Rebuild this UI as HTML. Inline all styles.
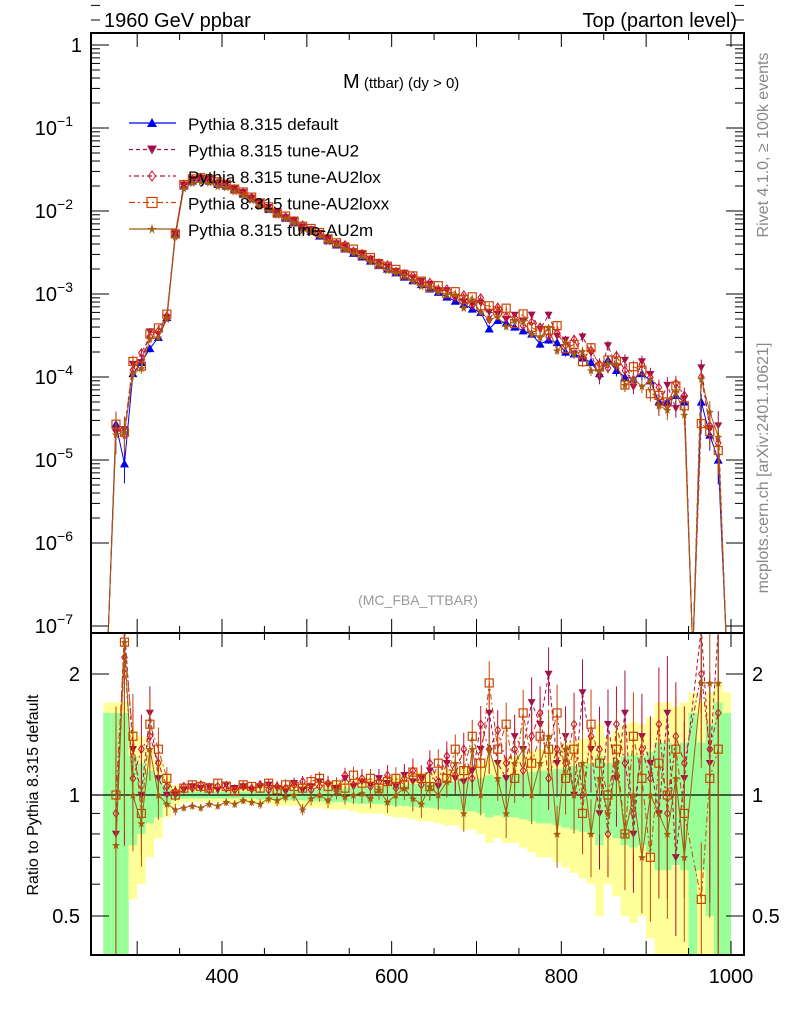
<!DOCTYPE html>
<html><head><meta charset="utf-8"><style>
html,body{margin:0;padding:0;background:#fff;width:786px;height:1024px;overflow:hidden;position:relative;}
svg{display:block;font-family:"Liberation Sans",Arial,sans-serif;}
</style></head><body>
<svg id="c" width="786" height="1024" viewBox="0 0 786 1024" style="position:absolute;left:0;top:0;"></svg>
<script>
// ---- data (bins of 10 GeV, centres 265..995) ----
const binStart = 260;
const binWidth = 10;
const defaultVals = [
0,2.7e-5,9e-6,1.1e-4,1.5e-4,2.2e-4,3.0e-4,5.2e-4,5.3e-3,0.020,
0.023,0.024,0.023,0.021,0.020,0.018,0.016,0.014,0.012,0.0105,
0.0092,0.0082,0.0072,0.0063,0.0057,0.0050,0.0044,0.0039,0.0035,0.0031,
0.0028,0.0025,0.0022,0.0020,0.0018,0.0016,0.00145,0.0013,0.00115,0.00105,
0.00092,0.00082,0.00075,0.00066,0.0006,0.00038,0.00048,0.00045,0.0004,0.00036,
0.00033,0.00025,0.00028,0.00026,0.0002,0.00019,0.00017,0.00015,0.00011,0.00016,
0.00012,0.0001,0.000095,0.00011,0.00009,0.00005,0.00005,0.00006,0.00005,0,
0.00005,0.00002,0.00001,0];
const ratioAU2 = [
null,0.8,2.6,1.3,1.0,1.6,1.1,1.0,1.0,1.03,
1.05,1.04,1.05,1.03,1.06,1.04,1.05,1.03,1.05,1.06,
1.04,1.02,1.07,1.03,1.05,1.08,1.06,1.04,1.1,1.05,
1.08,1.06,1.1,1.07,1.05,1.12,1.08,1.1,1.15,1.05,
1.2,1.1,1.08,1.15,1.3,1.6,1.2,1.1,1.4,1.3,
1.7,1.5,2.0,1.2,1.4,1.0,1.8,1.3,0.9,1.5,
1.1,1.6,0.8,1.4,1.2,0.9,1.6,0.7,1.1,null,
2.6,1.2,2.6,null];
const ratioAU2lox = [
null,0.9,2.2,1.1,1.3,1.4,1.2,1.05,1.02,1.05,
1.04,1.06,1.03,1.05,1.04,1.03,1.05,1.04,1.06,1.03,
1.05,1.04,1.06,1.08,1.03,1.05,1.07,1.04,1.12,1.06,
1.1,1.05,1.08,1.12,1.04,1.1,1.15,1.06,1.2,1.08,
1.25,1.12,1.3,1.1,1.5,1.3,1.45,1.2,1.3,1.15,
1.4,1.6,1.1,1.3,1.2,1.5,1.0,1.4,1.3,0.8,
1.5,1.2,0.9,1.3,1.1,1.5,0.9,1.4,1.2,null,
2.0,1.3,1.6,null];
const ratioAU2loxx = [
null,1.0,2.4,1.4,0.9,1.5,1.3,1.1,1.0,1.04,
1.06,1.05,1.04,1.07,1.05,1.02,1.06,1.05,1.04,1.07,
1.03,1.06,1.05,1.04,1.08,1.1,1.05,1.06,1.04,1.12,
1.07,1.1,1.04,1.08,1.1,1.06,1.14,1.1,1.05,1.2,
1.1,1.3,1.15,1.4,1.2,1.9,1.3,1.5,1.1,1.6,
1.2,1.4,1.3,1.6,1.1,1.3,0.9,1.5,1.2,1.0,
1.3,0.8,1.4,1.1,0.7,1.2,1.0,1.3,0.9,null,
0.55,1.1,1.3,null];
const ratioAU2m = [
null,0.75,2.4,1.0,0.85,1.3,1.0,0.95,0.92,0.93,
0.94,0.93,0.95,0.94,0.96,0.95,0.97,0.96,0.95,0.98,
0.97,0.99,1.0,0.92,0.98,1.0,0.97,1.02,0.99,1.0,
1.01,0.98,1.03,0.96,1.0,1.04,0.98,0.95,1.05,1.0,
1.08,1.2,0.9,1.3,1.0,1.3,1.1,0.9,1.2,1.3,
1.0,1.2,1.4,0.8,1.3,1.0,1.2,0.8,1.1,0.9,
1.2,0.8,1.0,0.7,1.0,0.9,0.8,1.1,0.7,null,
1.9,1.9,1.9,null];
const greenErr = [
0.6,0.6,0.6,0.25,0.2,0.15,0.12,0.06,0.03,0.02,
0.02,0.02,0.02,0.02,0.02,0.02,0.02,0.02,0.025,0.025,
0.03,0.03,0.03,0.03,0.035,0.035,0.04,0.04,0.04,0.045,
0.05,0.05,0.05,0.055,0.06,0.06,0.065,0.07,0.07,0.075,
0.08,0.08,0.09,0.09,0.1,0.12,0.11,0.12,0.12,0.13,
0.14,0.15,0.15,0.16,0.17,0.18,0.19,0.2,0.25,0.2,
0.22,0.25,0.26,0.25,0.28,0.35,0.35,0.33,0.35,0.6,
0.35,0.5,0.7,0.6];
const yellowErr = [
0.7,0.7,0.7,0.45,0.4,0.3,0.22,0.12,0.06,0.04,
0.04,0.04,0.04,0.04,0.04,0.045,0.045,0.05,0.05,0.05,
0.06,0.06,0.06,0.065,0.07,0.07,0.08,0.08,0.08,0.09,
0.1,0.1,0.1,0.11,0.12,0.12,0.13,0.14,0.14,0.15,
0.16,0.16,0.18,0.18,0.2,0.24,0.22,0.24,0.24,0.26,
0.28,0.3,0.3,0.32,0.34,0.36,0.38,0.4,0.5,0.4,
0.44,0.5,0.52,0.5,0.56,0.7,0.7,0.66,0.7,0.8,
0.7,0.8,0.9,0.8];
const xTicks = [400,600,800,1000];
const mainYTicks = [0,-1,-2,-3,-4,-5,-6,-7];
const ratioTicks = [2,1,0.5];

// ---- geometry ----
const L=91,R=744,T=33,MB=633,RB=955;
const xs = m => 222 + (m-400)*0.8483;
const ys = v => 45 - Math.log10(v)*83;
const yr = r => 795 - Math.log2(r)*121;
const svg = document.getElementById('c');
const NS='http://www.w3.org/2000/svg';
function el(tag, attrs, parent){const e=document.createElementNS(NS,tag);for(const k in attrs)e.setAttribute(k,attrs[k]);(parent||svg).appendChild(e);return e;}
const clipD=el('defs',{});
const c1=el('clipPath',{id:'cm'},clipD);el('rect',{x:L,y:T,width:R-L,height:MB-T},c1);
const c2=el('clipPath',{id:'cr'},clipD);el('rect',{x:L,y:MB,width:R-L,height:RB-MB},c2);

// ratio bands
const gBands=el('g',{'clip-path':'url(#cr)'});


defaultVals.forEach((v,i)=>{
  const x0=xs(binStart+i*binWidth), x1=xs(binStart+(i+1)*binWidth);
  const yy=yellowErr[i], gg=greenErr[i];
  const ry=el('rect',{x:x0,y:yr(1+yy),width:x1-x0,height:yr(Math.max(1-yy,0.05))-yr(1+yy),fill:'#ffff99'},gBands);
  
  
  const rg=el('rect',{x:x0,y:yr(1+gg),width:x1-x0,height:yr(Math.max(1-gg,0.05))-yr(1+gg),fill:'#99ff99'},gBands);
  
  
});
el('line',{x1:L,x2:R,y1:yr(1),y2:yr(1),stroke:'#000','stroke-width':1.2});

const series=[
 {name:'Pythia 8.315 default',ratio:null,color:'#0000ee',dash:'',marker:'tri'},
 {name:'Pythia 8.315 tune-AU2',ratio:ratioAU2,color:'#a0104a',dash:'4,3',marker:'tridown'},
 {name:'Pythia 8.315 tune-AU2lox',ratio:ratioAU2lox,color:'#c8102e',dash:'2,3,5,3',marker:'diamond'},
 {name:'Pythia 8.315 tune-AU2loxx',ratio:ratioAU2loxx,color:'#cc4400',dash:'6,3,2,3',marker:'square'},
 {name:'Pythia 8.315 tune-AU2m',ratio:ratioAU2m,color:'#a85a10',dash:'',marker:'star'}
];
function marker(g,type,x,y,c,s){
  s=s||4;
  if(type==='tri') return el('path',{d:`M${x},${y-s}L${x+s},${y+s*0.8}L${x-s},${y+s*0.8}Z`,fill:c},g);
  if(type==='tridown') return el('path',{d:`M${x},${y+s}L${x+s},${y-s*0.8}L${x-s},${y-s*0.8}Z`,fill:c},g);
  if(type==='diamond') return el('path',{d:`M${x},${y-s}L${x+s*0.7},${y}L${x},${y+s}L${x-s*0.7},${y}Z`,fill:'none',stroke:c,'stroke-width':1},g);
  if(type==='square') return el('rect',{x:x-s,y:y-s,width:2*s,height:2*s,fill:'none',stroke:c,'stroke-width':1.2},g);
  return el('path',{d:`M${x},${y-s}L${x+1.2},${y-1.2}L${x+s},${y-0.8}L${x+1.6},${y+1}L${x+2.4},${y+s}L${x},${y+2}L${x-2.4},${y+s}L${x-1.6},${y+1}L${x-s},${y-0.8}L${x-1.2},${y-1.2}Z`,fill:c},g);
}
const gMain=el('g',{'clip-path':'url(#cm)'});


const gRat=el('g',{'clip-path':'url(#cr)'});


series.forEach((s,si)=>{
  const g=el('g',{},gMain);
  
  
  const gr=el('g',{},gRat);
  
  
  let d='',dr='';
  const pts=[],rpts=[];
  defaultVals.forEach((v,i)=>{
    const m=binStart+(i+0.5)*binWidth;
    const x=xs(m);
    let val = s.ratio? (s.ratio[i]==null?0:v*s.ratio[i]) : v;
    const y = val>0? ys(val) : MB+20;
    d += (d?'L':'M')+x+','+y;
    if(val>0) pts.push([x,y,val,i]);
    if(s.ratio && s.ratio[i]!=null && v>0){
      const r=yr(s.ratio[i]);
      dr += (dr?'L':'M')+x+','+r;
      rpts.push([x,r,i]);
    }
  });
  el('path',{d:d,fill:'none',stroke:s.color,'stroke-width':1,'stroke-dasharray':s.dash},g);
  pts.forEach(p=>{
    const e=greenErr[p[3]]*0.7;
    el('line',{x1:p[0],x2:p[0],y1:ys(p[2]*(1+e)),y2:ys(p[2]*Math.max(1-e,0.05)),stroke:s.color,'stroke-width':1},g);
    const mk=marker(g,s.marker,p[0],p[1],s.color,si===0?4.5:4);
    
    
  });
  if(s.ratio){
    el('path',{d:dr,fill:'none',stroke:s.color,'stroke-width':1,'stroke-dasharray':s.dash},gr);
    rpts.forEach(p=>{
      const e=greenErr[p[2]]*1.1*s.ratio[p[2]];
      el('line',{x1:p[0],x2:p[0],y1:yr(s.ratio[p[2]]+e),y2:yr(Math.max(s.ratio[p[2]]-e,0.05)),stroke:s.color,'stroke-width':1},gr);
      const mk=marker(gr,s.marker,p[0],p[1],s.color,4);
      
      
    });
  }
});

// frames
el('rect',{x:L,y:T,width:R-L,height:MB-T,fill:'none',stroke:'#000','stroke-width':2});
el('rect',{x:L,y:MB,width:R-L,height:RB-MB,fill:'none',stroke:'#000','stroke-width':2});

// x ticks
const gx=el('g',{});


for(let m=300;m<=1000;m+=50){
  const x=xs(m), big=(m%100===0);
  const l=big?14:7;
  [[T,1],[MB,-1],[MB,1],[RB,-1]].forEach(([yy,dir])=>el('line',{x1:x,x2:x,y1:yy,y2:yy+dir*l,stroke:'#000','stroke-width':1},gx));
}
xTicks.forEach(m=>{
  const t=el('text',{x:xs(m),y:983,'font-size':20,'text-anchor':'middle'},gx);t.textContent=m;
  
  
});

// main y ticks
const gy=el('g',{});


mainYTicks.forEach(p=>{
  const y=45-p*83;
  el('line',{x1:L,x2:L+18,y1:y,y2:y,stroke:'#000'},gy);
  el('line',{x1:R,x2:R-18,y1:y,y2:y,stroke:'#000'},gy);
  if(p>-7) for(let k=2;k<10;k++){
    const yy=y-(Math.log10(k)-1)*83-83;
    el('line',{x1:L,x2:L+9,y1:yy,y2:yy,stroke:'#000'},gy);
    el('line',{x1:R,x2:R-9,y1:yy,y2:yy,stroke:'#000'},gy);
  }
  const t=el('text',{x:82,y:y+7,'font-size':20,'text-anchor':'end'},gy);
  
  
  if(p===0) t.textContent='1';
  else { t.innerHTML='10<tspan dy="-9" font-size="14">\u2212'+(-p)+'</tspan>'; t.setAttribute('x',73); }
});
// ratio ticks
const gry=el('g',{});


[0.5,0.6,0.7,0.8,0.9,1,2].forEach(r=>{
  const y=yr(r), big=(r===1||r===2||r===0.5);
  el('line',{x1:L,x2:L+(big?18:9),y1:y,y2:y,stroke:'#000'},gry);
  el('line',{x1:R,x2:R-(big?18:9),y1:y,y2:y,stroke:'#000'},gry);
});
ratioTicks.forEach(r=>{
  const t=el('text',{x:80,y:yr(r)+7,'font-size':20,'text-anchor':'end'},gry);t.textContent=r;
  
  
  const t2=el('text',{x:752,y:yr(r)+7,'font-size':20},gry);t2.textContent=r;
  
  
});

// legend
const gl=el('g',{});


series.forEach((s,i)=>{
  const y=123+i*26.5;
  const e=el('g',{},gl);
  
  
  el('line',{x1:129,x2:176,y1:y,y2:y,stroke:s.color,'stroke-width':1.2,'stroke-dasharray':s.dash},e);
  marker(e,s.marker,152,y,s.color,5);
  const t=el('text',{x:188,y:y+7,'font-size':17},e);t.textContent=s.name;
});
</script>
<svg width="786" height="1024" style="position:absolute;left:0;top:0;font-family:'Liberation Sans',Arial,sans-serif;">
<text x="104" y="27" font-size="20">1960 GeV ppbar</text>
<text x="737" y="27" font-size="20" text-anchor="end">Top (parton level)</text>
<text x="343" y="88" font-size="20">M<tspan font-size="15"> (ttbar) (dy &gt; 0)</tspan></text>
<text x="418" y="605" font-size="14" fill="#999" text-anchor="middle">(MC_FBA_TTBAR)</text>
<text transform="translate(768,145) rotate(-90)" font-size="16" fill="#888" text-anchor="middle">Rivet 4.1.0, ≥ 100k events</text>
<text transform="translate(768,468) rotate(-90)" font-size="16" fill="#888" text-anchor="middle">mcplots.cern.ch [arXiv:2401.10621]</text>
<text transform="translate(38,795) rotate(-90)" font-size="16" text-anchor="middle">Ratio to Pythia 8.315 default</text>
</svg>
</body></html>
